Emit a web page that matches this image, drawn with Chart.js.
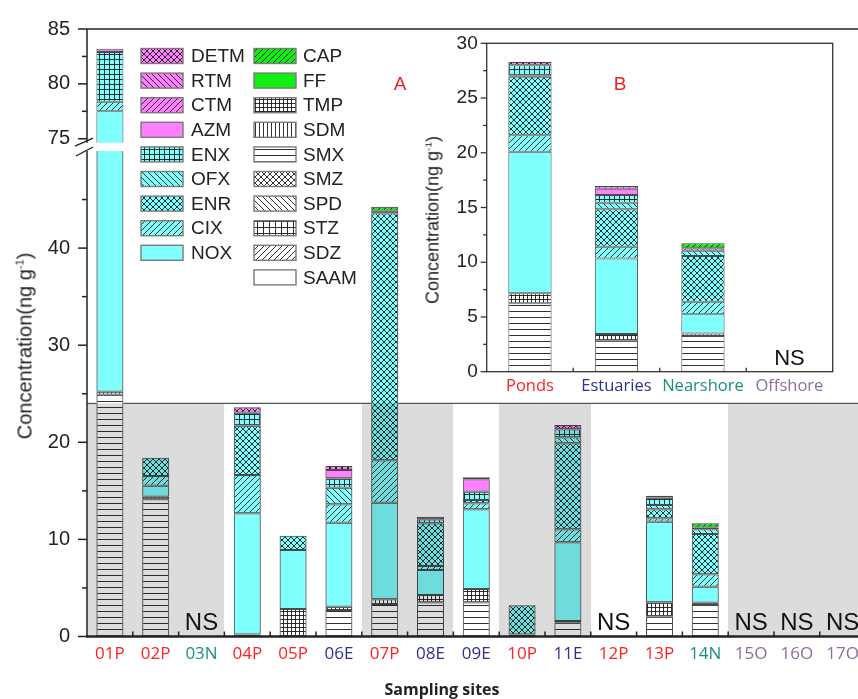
<!DOCTYPE html>
<html>
<head>
<meta charset="utf-8">
<script src="https://cdn.jsdelivr.net/npm/chart.js@4.4.1/dist/chart.umd.min.js"></script>
<style>
  html, body { margin: 0; padding: 0; background: #fff; overflow: hidden; }
  #wrap { position: relative; width: 858px; height: 699px; overflow: hidden; }
  canvas { position: absolute; left: 0; top: 0; }
  .ytitle {
    position: absolute; white-space: nowrap; color: #222;
    font-family: "Liberation Sans", Arial, sans-serif;
    transform: translate(-50%, -50%) rotate(-90deg);
  }
  .ytitle sup { font-size: 55%; }
  #xtitle {
    position: absolute; left: 442px; top: 678px; transform: translateX(-50%);
    font: bold 16px "Open Sans", sans-serif; color: #222; white-space: nowrap;
  }
</style>
</head>
<body>
<div id="wrap">
  <canvas id="lower" width="866" height="699"></canvas>
  <canvas id="upper" width="866" height="699"></canvas>
  <canvas id="inset" width="458" height="410" style="left:400px"></canvas>
  <div class="ytitle" style="left:25px; top:346px; font-size:20px">Concentration(ng g<sup>-1</sup>)</div>
  <div class="ytitle" style="left:433px; top:220px; font-size:18px">Concentration(ng g<sup>-1</sup>)</div>
  <div id="xtitle">Sampling sites</div>
</div>
<script>
// ---- data: panel A (sites) ----
const sites = ["01P", "02P", "03N", "04P", "05P", "06E", "07P", "08E", "09E", "10P", "11E", "12P", "13P", "14N", "15O", "16O", "17O"];
const SMX  = [24.9, 14.13, 0, 0.2, 0, 2.74, 3.35, 3.52, 3.52, 0.2, 1.46, 0, 2.04, 3.24, 0, 0, 0];
const TMP  = [0.3, 0.27, 0, 0, 2.83, 0.33, 0.48, 0.75, 1.37, 0, 0.14, 0, 1.48, 0.24, 0, 0, 0];
const NOX  = [52.3, 1.13, 0, 12.49, 6.08, 8.65, 9.95, 2.58, 8.21, 0, 8.1, 0, 8.3, 1.65, 0, 0, 0];
const CIX  = [0.87, 1.0, 0, 3.94, 0, 1.89, 4.37, 0.41, 0.62, 0, 1.34, 0, 0.35, 1.28, 0, 0, 0];
const ENR  = [0, 1.88, 0, 5.08, 1.47, 0, 25.45, 4.4, 0.34, 3.01, 8.86, 0, 0.93, 4.15, 0, 0, 0];
const OFX  = [0, 0, 0, 0, 0, 1.71, 0.25, 0, 0, 0, 0.61, 0, 0.44, 0.48, 0, 0, 0];
const ENX  = [4.54, 0, 0, 1.34, 0, 0.97, 0, 0.41, 0.85, 0, 0.83, 0, 0.75, 0, 0, 0, 0];
const AZM  = [0.29, 0, 0, 0, 0, 0.86, 0, 0, 1.28, 0, 0, 0, 0, 0, 0, 0, 0];
const RTM  = [0, 0, 0, 0, 0, 0, 0, 0, 0, 0, 0, 0, 0, 0.16, 0, 0, 0];
const DETM = [0, 0, 0, 0.55, 0, 0.41, 0, 0.27, 0.21, 0, 0.44, 0, 0.21, 0, 0, 0, 0];
const CAP  = [0, 0, 0, 0, 0, 0, 0.4, 0, 0, 0, 0, 0, 0, 0.46, 0, 0, 0];
const shadedSites = ["01P", "02P", "03N", "07P", "08E", "10P", "11E", "15O", "16O", "17O"];
const shadeLevel = 24;

// ---- data: panel B (regions) ----
const regions = ["Ponds", "Estuaries", "Nearshore", "Offshore"];
const SMX_B  = [6.25, 2.83, 3.26, 0];
const TMP_B  = [0.91, 0.61, 0.24, 0];
const NOX_B  = [12.93, 6.91, 1.74, 0];
const CIX_B  = [1.51, 1.07, 1.15, 0];
const ENR_B  = [5.34, 3.41, 4.18, 0];
const OFX_B  = [0.15, 0.61, 0.48, 0];
const ENX_B  = [0.9, 0.7, 0, 0];
const AZM_B  = [0, 0.57, 0, 0];
const RTM_B  = [0, 0.25, 0.22, 0];
const DETM_B = [0.3, 0, 0, 0];
const CAP_B  = [0, 0, 0.46, 0];

const upperTicks = [75, 77.5, 80, 82.5, 85];
const lowerTicks = [0, 5, 10, 15, 20, 25, 30, 35, 40, 45];
const insetTicks = [0, 2.5, 5, 7.5, 10, 12.5, 15, 17.5, 20, 22.5, 25, 27.5, 30];

// stacking order, bottom to top
const stackOrder = ["SAAM", "SDZ", "STZ", "SPD", "SMZ", "SMX", "SDM", "TMP", "NOX", "CIX", "ENR", "OFX", "ENX", "AZM", "CTM", "RTM", "DETM", "FF", "CAP"];
const mainData = { SMX, TMP, NOX, CIX, ENR, OFX, ENX, AZM, RTM, DETM, CAP };
const insetData = { SMX: SMX_B, TMP: TMP_B, NOX: NOX_B, CIX: CIX_B, ENR: ENR_B, OFX: OFX_B, ENX: ENX_B, AZM: AZM_B, RTM: RTM_B, DETM: DETM_B, CAP: CAP_B };

const legendLeft = ["DETM", "RTM", "CTM", "AZM", "ENX", "OFX", "ENR", "CIX", "NOX"];
const legendRight = ["CAP", "FF", "TMP", "SDM", "SMX", "SMZ", "SPD", "STZ", "SDZ", "SAAM"];

const groupColor = { P: "#FF2222", E: "#2E3192", N: "#1A8F7F", O: "#8B6F99" };
const regionColors = ["#FF2222", "#2E3192", "#1A8F7F", "#8B6F99"];

// fill styles: background + hatch type (f = /, b = \, h = -, v = |)
const CY = "#80FFFF", MG = "#FF80FF", GR = "#11EE11", WH = "#FFFFFF";
const styles = {
  DETM: [MG, "fb", 6], RTM: [MG, "b", 6], CTM: [MG, "f", 6], AZM: [MG, "", 6],
  ENX: [CY, "hv", 5], OFX: [CY, "b", 6], ENR: [CY, "fb", 6], CIX: [CY, "f", 6], NOX: [CY, "", 6],
  CAP: [GR, "f", 6], FF: [GR, "", 6], TMP: [WH, "hv", 4], SDM: [WH, "v", 4], SMX: [WH, "h", 6],
  SMZ: [WH, "fb", 6], SPD: [WH, "b", 6], STZ: [WH, "hv", 6], SDZ: [WH, "f", 6], SAAM: [WH, "", 6]
};

function makeFill(name) {
  const [bg, type, gap] = styles[name];
  if (!type) return bg;
  const c = document.createElement("canvas");
  c.width = c.height = gap;
  const g = c.getContext("2d");
  g.fillStyle = bg;
  g.fillRect(0, 0, gap, gap);
  g.strokeStyle = "#1a1a1a";
  g.lineWidth = 0.9;
  g.beginPath();
  if (type.includes("h")) { g.moveTo(0, gap - 0.5); g.lineTo(gap, gap - 0.5); }
  if (type.includes("v")) { g.moveTo(gap - 0.5, 0); g.lineTo(gap - 0.5, gap); }
  for (const k of [-gap, 0, gap]) {
    if (type.includes("f")) { g.moveTo(k, gap); g.lineTo(k + gap, 0); }
    if (type.includes("b")) { g.moveTo(k, 0); g.lineTo(k + gap, gap); }
  }
  g.stroke();
  return g.createPattern(c, "repeat");
}
const fills = {};
for (const n of Object.keys(styles)) fills[n] = makeFill(n);

const clean = arr => arr.map(v => (v ? v : null));

function buildDatasets(lookup, barPct) {
  return stackOrder.filter(n => lookup[n]).map(n => ({
    label: n,
    data: clean(lookup[n]),
    backgroundColor: fills[n],
    borderColor: "#4a4a4a",
    borderWidth: 1,
    borderSkipped: false,
    barPercentage: barPct,
    categoryPercentage: 1
  }));
}

const totals = sites.map((s, i) => Object.values(mainData).reduce((a, arr) => a + arr[i], 0));
const insetTotals = regions.map((r, i) => Object.values(insetData).reduce((a, arr) => a + arr[i], 0));

Chart.defaults.font.family = '"Liberation Sans", Arial, sans-serif';
Chart.defaults.color = "#222";

const H = 699;
const AXIS_LEFT = 87;
const UPPER_TOP = 22.7, UPPER_BOTTOM = 142.7;
const LOWER_TOP = 151, LOWER_BOTTOM = 636.5;
const BAR_PCT = 0.59;

function line(ctx, x1, y1, x2, y2) {
  ctx.beginPath(); ctx.moveTo(x1, y1); ctx.lineTo(x2, y2); ctx.stroke();
}

function yTickMarks(ctx, y, x0, major, minor, labelled) {
  y.ticks.forEach(t => {
    const py = y.getPixelForValue(t.value);
    line(ctx, x0 - (labelled(t.value) ? major : minor), py, x0, py);
  });
}

// ---- panel A, upper segment (above the break) ----
const upperPlugin = {
  id: "upperFrame",
  afterDatasetsDraw(chart) {
    const { ctx, chartArea: a, scales: { y } } = chart;
    ctx.save();
    ctx.strokeStyle = "#222";
    ctx.lineWidth = 1.5;
    line(ctx, a.left, a.top, a.right, a.top);
    line(ctx, a.left, a.top, a.left, a.bottom);
    yTickMarks(ctx, y, a.left, 9, 5, v => v % 5 === 0);
    ctx.restore();
  }
};

new Chart(document.getElementById("upper"), {
  type: "bar",
  data: { labels: sites, datasets: buildDatasets(mainData, BAR_PCT) },
  options: {
    responsive: false, animation: false,
    layout: { padding: { top: UPPER_TOP, bottom: H - UPPER_BOTTOM, left: 0, right: 0 } },
    plugins: { legend: { display: false }, tooltip: { enabled: false } },
    scales: {
      x: { stacked: true, display: false },
      y: {
        stacked: true, min: 74.64, max: 85,
        grid: { display: false, drawTicks: false }, border: { display: false },
        afterBuildTicks: s => { s.ticks = upperTicks.map(v => ({ value: v })); },
        ticks: { callback: v => (v % 5 === 0 ? v : ""), font: { size: 20 }, padding: 17 },
        afterFit: s => { s.width = AXIS_LEFT; }
      }
    }
  },
  plugins: [upperPlugin]
});

// ---- panel A, lower segment ----
const lowerPlugin = {
  id: "lowerFrame",
  beforeDatasetsDraw(chart) {
    const { ctx, chartArea: a, scales: { x, y } } = chart;
    const cw = (a.right - a.left) / sites.length;
    const yTop = y.getPixelForValue(shadeLevel), y0 = y.getPixelForValue(0);
    ctx.save();
    ctx.fillStyle = "#DCDCDC";
    // contiguous runs of shaded sites, drawn as one block each
    let run = -1;
    sites.forEach((s, i) => {
      const on = shadedSites.includes(s);
      if (on && run < 0) run = i;
      if (run >= 0 && (!on || i === sites.length - 1)) {
        const end = on ? i + 1 : i;
        const x1 = Math.round(a.left + run * cw), x2 = Math.round(a.left + end * cw);
        ctx.fillRect(x1, yTop, x2 - x1, y0 - yTop);
        run = -1;
      }
    });
    // shade top edge, hidden behind the taller bars
    ctx.strokeStyle = "#555";
    ctx.lineWidth = 1.3;
    let from = a.left;
    sites.forEach((s, i) => {
      if (totals[i] > shadeLevel) {
        const cx = x.getPixelForValue(i), hw = cw * BAR_PCT / 2;
        line(ctx, from, yTop, cx - hw, yTop);
        from = cx + hw;
      }
    });
    line(ctx, from, yTop, a.right, yTop);
    ctx.restore();
    ctx.globalCompositeOperation = "multiply";
  },
  afterDatasetsDraw(chart) {
    const { ctx, chartArea: a, scales: { x, y } } = chart;
    ctx.globalCompositeOperation = "source-over";
    const cw = (a.right - a.left) / sites.length;
    ctx.save();
    ctx.strokeStyle = "#222";
    ctx.lineWidth = 1.5;
    line(ctx, a.left, a.top, a.left, a.bottom);
    yTickMarks(ctx, y, a.left, 9, 5, v => v % 10 === 0);
    for (let k = 1; k < sites.length; k++) {
      const px = a.left + k * cw;
      line(ctx, px, a.bottom, px, a.bottom - 5);
    }
    ctx.lineWidth = 2.6;
    line(ctx, a.left - 1, a.bottom, a.right, a.bottom);

    // axis break marks
    ctx.lineWidth = 1.4;
    line(ctx, a.left - 12, UPPER_BOTTOM + 3.5, a.left + 6, UPPER_BOTTOM - 4.5);
    line(ctx, a.left - 11, LOWER_TOP + 5, a.left + 6, LOWER_TOP - 4);

    // not sampled
    ctx.fillStyle = "#111";
    ctx.font = '24px "Liberation Sans", Arial, sans-serif';
    ctx.textAlign = "center";
    ctx.textBaseline = "alphabetic";
    sites.forEach((s, i) => {
      if (!totals[i]) ctx.fillText("NS", x.getPixelForValue(i), a.bottom - 6.5);
    });

    // panel letter
    ctx.fillStyle = "#F02020";
    ctx.font = '19px "Liberation Sans", Arial, sans-serif';
    ctx.textBaseline = "middle";
    ctx.fillText("A", 400, 85);

    // legend, two columns
    ctx.font = '19px "Liberation Sans", Arial, sans-serif';
    ctx.textAlign = "left";
    const drawCol = (names, sx, tx) => {
      names.forEach((n, i) => {
        const cy = 56 + i * 24.6;
        ctx.fillStyle = fills[n];
        ctx.fillRect(sx, cy - 7.5, 42, 15);
        ctx.strokeStyle = "#7a7a7a";
        ctx.lineWidth = 1.4;
        ctx.strokeRect(sx, cy - 7.5, 42, 15);
        ctx.fillStyle = "#222";
        ctx.fillText(n, tx, cy + 1);
      });
    };
    drawCol(legendLeft, 141, 191);
    drawCol(legendRight, 254, 303);
    ctx.restore();
  }
};

new Chart(document.getElementById("lower"), {
  type: "bar",
  data: { labels: sites, datasets: buildDatasets(mainData, BAR_PCT) },
  options: {
    responsive: false, animation: false,
    layout: { padding: { top: LOWER_TOP, bottom: 0, left: 0, right: 0 } },
    plugins: { legend: { display: false }, tooltip: { enabled: false } },
    scales: {
      x: {
        stacked: true,
        grid: { display: false, drawTicks: false }, border: { display: false },
        ticks: {
          color: c => groupColor[sites[c.index].slice(-1)],
          font: { family: '"Open Sans", sans-serif', size: 17 },
          padding: 7, autoSkip: false, maxRotation: 0
        },
        afterFit: s => { s.height = H - LOWER_BOTTOM; }
      },
      y: {
        stacked: true, min: 0, max: 50,
        grid: { display: false, drawTicks: false }, border: { display: false },
        afterBuildTicks: s => { s.ticks = lowerTicks.map(v => ({ value: v })); },
        ticks: { callback: v => (v % 10 === 0 ? v : ""), font: { size: 20 }, padding: 17 },
        afterFit: s => { s.width = AXIS_LEFT; }
      }
    }
  },
  plugins: [lowerPlugin]
});

// ---- panel B (inset) ----
const insetPlugin = {
  id: "insetFrame",
  afterDatasetsDraw(chart) {
    const { ctx, chartArea: a, scales: { x, y } } = chart;
    const cw = (a.right - a.left) / regions.length;
    ctx.save();
    ctx.strokeStyle = "#333";
    ctx.lineWidth = 1.3;
    ctx.strokeRect(a.left, a.top, a.right - a.left, a.bottom - a.top);
    yTickMarks(ctx, y, a.left, 6, 3.5, v => v % 5 === 0);
    for (let k = 1; k < regions.length; k++) {
      const px = a.left + k * cw;
      line(ctx, px, a.bottom, px, a.bottom - 4);
    }
    ctx.fillStyle = "#111";
    ctx.font = '22px "Liberation Sans", Arial, sans-serif';
    ctx.textAlign = "center";
    regions.forEach((r, i) => {
      if (!insetTotals[i]) ctx.fillText("NS", x.getPixelForValue(i), a.bottom - 7);
    });
    ctx.fillStyle = "#F02020";
    ctx.font = '19px "Liberation Sans", Arial, sans-serif';
    ctx.textBaseline = "middle";
    ctx.fillText("B", 220, 85);
    ctx.restore();
  }
};

new Chart(document.getElementById("inset"), {
  type: "bar",
  data: { labels: regions, datasets: buildDatasets(insetData, 0.5) },
  options: {
    responsive: false, animation: false,
    layout: { padding: { top: 43.3, right: 25.3, bottom: 0, left: 0 } },
    plugins: { legend: { display: false }, tooltip: { enabled: false } },
    scales: {
      x: {
        stacked: true,
        grid: { display: false, drawTicks: false }, border: { display: false },
        ticks: {
          color: c => regionColors[c.index],
          font: { family: '"Open Sans", sans-serif', size: 16.5 },
          padding: 5, autoSkip: false, maxRotation: 0
        },
        afterFit: s => { s.height = 410 - 371.7; }
      },
      y: {
        stacked: true, min: 0, max: 30,
        grid: { display: false, drawTicks: false }, border: { display: false },
        afterBuildTicks: s => { s.ticks = insetTicks.map(v => ({ value: v })); },
        ticks: { callback: v => (v % 5 === 0 ? v : ""), font: { size: 19 }, padding: 9 },
        afterFit: s => { s.width = 86.7; }
      }
    }
  },
  plugins: [insetPlugin]
});
</script>
</body>
</html>
